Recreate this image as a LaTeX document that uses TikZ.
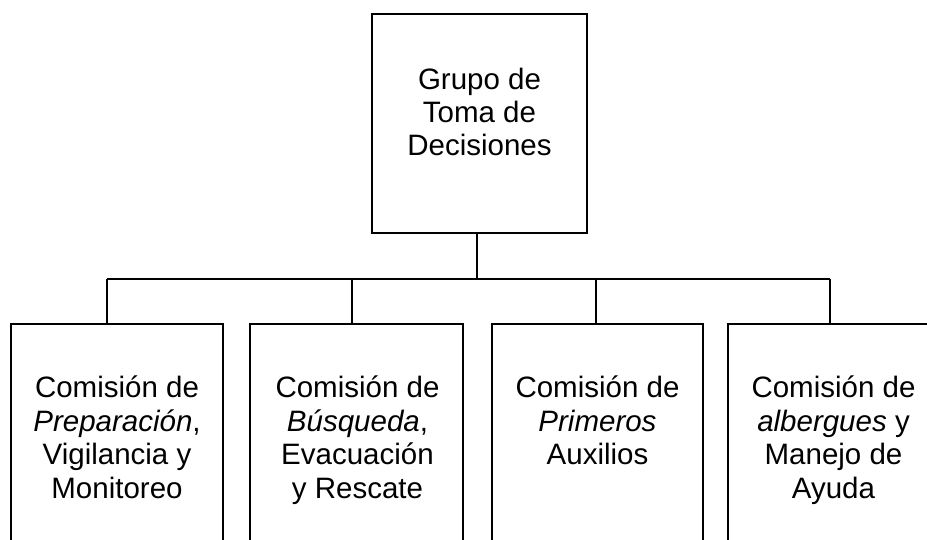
\documentclass[tikz,border=0pt]{standalone}
\usepackage{fontspec}
\setmainfont{Liberation Sans}
\begin{document}
\begin{tikzpicture}[x=1pt,y=1pt,
  box/.style={draw=black, line width=2.3pt, inner sep=0pt, outer sep=0pt, rectangle},
  txt/.style={align=center, inner sep=0pt, font=\fontsize{29.5}{33.4}\selectfont},
  conn/.style={draw=black, line width=2.3pt}]
\useasboundingbox (0,0) rectangle (927,540);
\clip (0,0) rectangle (927,540);
% top box
\node[box, minimum width=215pt, minimum height=219pt] (top) at (479.5,416.5) {};
\node[txt] (toptxt) at (479.5,428) {Grupo de\\Toma de\\Decisiones};
% bottom boxes
\node[box, minimum width=212pt, minimum height=276pt] (b1) at (117,78) {};
\node[box, minimum width=213pt, minimum height=276pt] (b2) at (356.5,78) {};
\node[box, minimum width=211pt, minimum height=276pt] (b3) at (597.5,78) {};
\node[box, minimum width=212pt, minimum height=276pt] (b4) at (834,78) {};
\node[txt, anchor=north] (t1) at (117,164) {Comisión de\\\textit{Preparación},\\Vigilancia y\\Monitoreo};
\node[txt, anchor=north] (t2) at (357.5,164) {Comisión de\\\textit{Búsqueda},\\Evacuación\\y Rescate};
\node[txt, anchor=north] (t3) at (597.5,164) {Comisión de\\\textit{Primeros}\\Auxilios};
\node[txt, anchor=north] (t4) at (833.5,164) {Comisión de\\\textit{albergues} y\\Manejo de\\Ayuda};
% connectors
\coordinate (bus) at (477,261);
\coordinate (j1) at (107,261);
\coordinate (j2) at (352,261);
\coordinate (j3) at (596,261);
\coordinate (j4) at (830,261);
\draw[conn] (top.south -| bus) -- (bus);
\draw[conn] (j1) -- (j4);
\draw[conn] (j1) -- (j1 |- b1.north);
\draw[conn] (j2) -- (j2 |- b2.north);
\draw[conn] (j3) -- (j3 |- b3.north);
\draw[conn] (j4) -- (j4 |- b4.north);
\end{tikzpicture}
\end{document}
